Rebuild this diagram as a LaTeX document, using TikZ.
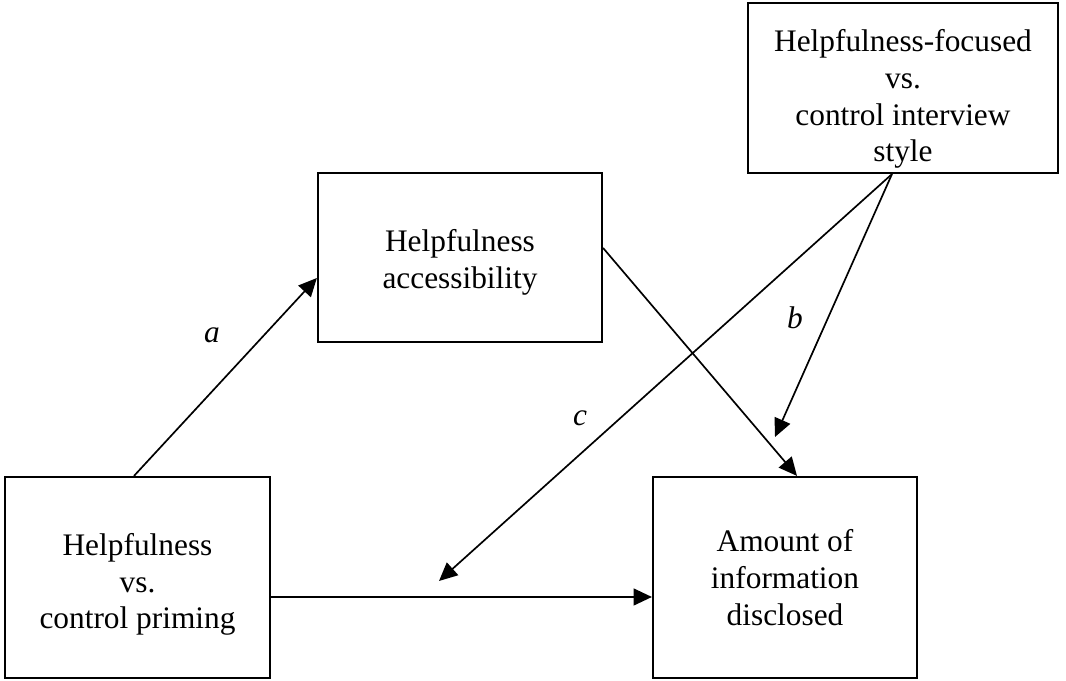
\documentclass[tikz,border=0pt]{standalone}
\usepackage{fontspec}
\setmainfont{Liberation Serif}
\usepackage{tikz}
\usetikzlibrary{arrows.meta,calc}

\tikzset{
  var/.style={draw,line width=1.5pt,align=center,inner sep=0pt,
    font=\fontsize{22.3}{26.2}\selectfont},
  arr/.style={-{Triangle[length=13pt,width=12pt]},line width=1.2pt},
  lab/.style={font=\fontsize{22.3}{26.2}\selectfont\itshape}
}

\begin{document}
\begin{tikzpicture}[x=0.025cm,y=0.025cm]
        \useasboundingbox (0,0) rectangle (1066,681);
        \node[var,minimum width=7.75cm,minimum height=4.25cm] (style) at (903,593) {\rule{0pt}{1.1cm}Helpfulness-focused\\vs.\\control interview\\style};
        \node[var,minimum width=7.1cm,minimum height=4.225cm] (access) at (460,423.5) {\rule{0pt}{0.8cm}Helpfulness\\accessibility};
        \node[var,minimum width=6.625cm,minimum height=5.025cm] (prime) at (137.5,103.5) {\rule{0pt}{0.9cm}Helpfulness\\vs.\\control priming};
        \node[var,minimum width=6.6cm,minimum height=5.025cm] (amount) at (785,103.5) {Amount of\\information\\disclosed};
        \coordinate (bhead) at (775,244);
        \coordinate (chead) at (439,100);

        \draw[arr] ($(prime.north)+(-3.5,0)$) -- ($(access.west)+(0,-20.5)$);
        \draw[arr] ($(access.east)+(0,9.5)$) -- ($(amount.north)+(12,0)$);
        \draw[arr] ($(prime.east)+(0,-19.5)$) -- ($(amount.west)+(0,-19.5)$);
        \draw[arr] ($(style.south)+(-11,0)$) -- (bhead);
        \draw[arr] ($(style.south)+(-11,0)$) -- (chead);

        \node[lab] (la) at (212,346) {a};
        \node[lab] (lb) at (795,363) {b};
        \node[lab] (lc) at (580,263) {c};
        \end{tikzpicture}
\end{document}
